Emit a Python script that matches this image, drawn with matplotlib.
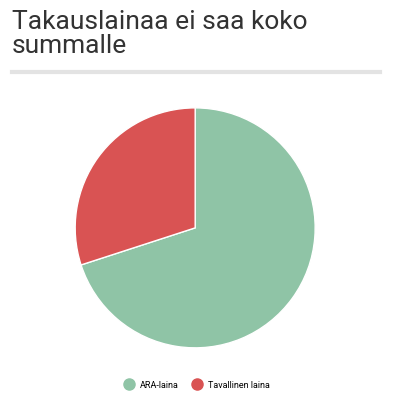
import matplotlib
matplotlib.use("Agg")
import matplotlib.pyplot as plt
from matplotlib.lines import Line2D

labels = ["ARA-laina", "Tavallinen laina"]
values = [70, 30]
colors = ["#8fc4a6", "#d95353"]

fig = plt.figure(figsize=(4.02, 4.04), dpi=100)
fig.patch.set_facecolor("white")

fig.text(0.03, 0.975, "Takauslainaa ei saa koko\nsummalle", ha="left", va="top",
         fontsize=19, family="Roboto", color="#333333", linespacing=1.0)
fig.add_artist(Line2D([0.03, 0.945], [0.822, 0.822], color="#e3e3e3", lw=3))

ax = fig.add_axes([0.187, 0.139, 0.597, 0.594])
ax.pie(values, colors=colors, startangle=90, counterclock=False,
       wedgeprops=dict(edgecolor="white", linewidth=1))
ax.set_xlim(-1, 1)
ax.set_ylim(-1, 1)
ax.set_aspect("equal")

handles = [Line2D([], [], marker="o", ls="", color=c, markersize=8) for c in colors]
fig.legend(handles, labels, loc="center", bbox_to_anchor=(0.485, 0.047), ncol=2,
           frameon=False, handletextpad=0.2, columnspacing=1.0,
           prop={"family": "Roboto", "size": 6.5})

fig.savefig("out.png", dpi=100)
